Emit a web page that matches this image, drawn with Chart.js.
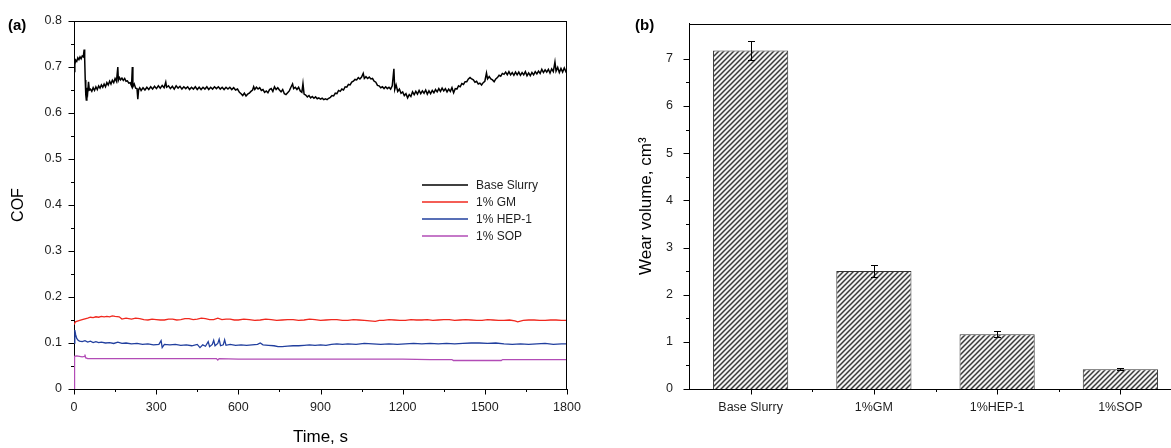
<!DOCTYPE html>
<html><head><meta charset="utf-8">
<script src="https://cdn.jsdelivr.net/npm/chart.js@4/dist/chart.umd.min.js"></script>
<style>
html,body{margin:0;padding:0;background:#fff;overflow:hidden;width:1171px;height:448px;}
#ca{position:absolute;left:0;top:0;}
#cb{position:absolute;left:600px;top:0;}
</style></head><body>
<canvas id="ca" width="600" height="448"></canvas>
<canvas id="cb" width="600" height="448"></canvas>
<script>
// ---------- data: panel (a) COF vs time, [time s, COF] ----------
const baseSlurry = [[0,0.690],[3,0.705],[6,0.715],[10,0.712],[14,0.720],[18,0.716],[22,0.722],[26,0.718],[30,0.724],[34,0.722],[37,0.738],[39,0.718],[41,0.672],[43,0.640],[45,0.628],[47,0.655],[50,0.645],[53,0.668],[56,0.650],
[60,0.652],[65,0.647],[70,0.655],[75,0.649],[80,0.657],[85,0.651],[90,0.659],[95,0.654],[100,0.661],[105,0.656],[110,0.663],[115,0.657],[120,0.666],[125,0.661],[130,0.669],[135,0.663],[140,0.671],[145,0.666],[150,0.675],[155,0.669],
[160,0.700],[162,0.671],[166,0.677],[170,0.672],[175,0.676],[180,0.671],[185,0.675],[190,0.669],[195,0.670],[200,0.665],[205,0.666],[210,0.659],[213,0.700],[215,0.657],[220,0.663],[225,0.654],[230,0.653],[233,0.630],[236,0.651],[240,0.655],
[245,0.649],[252,0.655],[259,0.650],[266,0.656],[273,0.651],[280,0.657],[287,0.652],[294,0.658],[301,0.653],[308,0.659],[315,0.654],[322,0.660],[329,0.655],[335,0.667],[338,0.656],[345,0.659],[352,0.653],[359,0.658],[366,0.652],[373,0.659],[380,0.654],[387,0.658],[394,0.652],[401,0.657],[408,0.653],[415,0.657],[422,0.651],[429,0.656],[436,0.652],[443,0.657],[450,0.651],[457,0.656],[464,0.651],[471,0.656],[478,0.652],[485,0.657],[492,0.651],[499,0.656],[506,0.652],[513,0.657],[520,0.653],[527,0.657],[534,0.652],[541,0.656],[548,0.651],[555,0.656],[562,0.652],[569,0.656],[576,0.651],[583,0.655],[590,0.650],[597,0.652],
[604,0.645],[610,0.642],[616,0.638],[622,0.643],[628,0.637],[634,0.641],[640,0.643],[646,0.647],[652,0.650],[656,0.657],[660,0.651],[666,0.656],[672,0.652],[678,0.655],[684,0.649],[690,0.651],[696,0.645],[702,0.648],[708,0.644],[714,0.651],[720,0.653],[726,0.647],[732,0.657],[738,0.651],[744,0.655],[750,0.650],[756,0.646],[762,0.651],[768,0.642],[774,0.640],[780,0.644],[786,0.648],[792,0.656],[798,0.663],[802,0.653],[808,0.656],[814,0.651],[820,0.656],[826,0.648],[832,0.645],[836,0.664],[840,0.641],
[846,0.639],[852,0.635],[858,0.638],[864,0.633],[870,0.636],[876,0.632],[882,0.635],[888,0.631],[894,0.633],[900,0.630],[906,0.632],[912,0.629],[918,0.631],[924,0.629],[930,0.632],[936,0.634],[942,0.638],[948,0.637],[954,0.643],[960,0.642],[966,0.649],[972,0.647],[978,0.652],[984,0.650],[990,0.657],[996,0.656],[1002,0.662],[1008,0.661],[1014,0.667],[1020,0.669],[1026,0.673],[1032,0.672],[1038,0.677],[1044,0.674],[1050,0.678],[1056,0.686],[1060,0.675],[1066,0.679],[1072,0.675],[1078,0.678],[1084,0.674],[1090,0.675],[1096,0.669],[1102,0.667],[1108,0.660],[1114,0.659],[1120,0.655],[1126,0.657],[1132,0.653],[1138,0.657],[1144,0.653],[1150,0.656],[1156,0.652],[1162,0.659],[1168,0.696],[1171,0.651],[1176,0.661],[1182,0.647],[1188,0.652],[1194,0.643],
[1200,0.646],[1206,0.638],[1212,0.642],[1218,0.633],[1224,0.640],[1230,0.636],[1236,0.646],[1242,0.640],[1248,0.647],[1254,0.641],[1260,0.649],[1266,0.642],[1272,0.648],[1278,0.643],[1284,0.650],[1290,0.641],[1296,0.648],[1302,0.642],[1308,0.649],[1314,0.644],[1320,0.651],[1326,0.646],[1332,0.653],[1338,0.647],[1344,0.654],[1350,0.648],[1356,0.653],[1362,0.646],[1368,0.652],[1374,0.647],[1380,0.655],[1386,0.644],[1392,0.653],[1398,0.652],[1404,0.659],[1410,0.657],[1416,0.664],[1422,0.662],[1428,0.668],[1434,0.668],[1440,0.674],[1446,0.677],[1452,0.674],[1458,0.672],[1464,0.667],[1470,0.669],[1476,0.663],[1482,0.665],[1488,0.661],[1494,0.666],[1500,0.669],[1506,0.687],[1510,0.674],[1516,0.679],[1522,0.674],[1528,0.672],[1534,0.668],[1540,0.674],[1546,0.677],[1552,0.682],[1558,0.680],[1564,0.686],[1570,0.684],[1576,0.689],[1582,0.683],[1588,0.690],[1594,0.683],
[1600,0.688],[1606,0.682],[1612,0.689],[1618,0.683],[1624,0.689],[1630,0.682],[1636,0.688],[1642,0.683],[1648,0.690],[1654,0.681],[1660,0.687],[1666,0.681],[1672,0.688],[1678,0.683],[1684,0.690],[1690,0.685],[1696,0.691],[1702,0.686],[1708,0.695],[1714,0.688],[1720,0.694],[1726,0.689],[1732,0.695],[1738,0.687],[1744,0.696],[1750,0.690],[1756,0.711],[1760,0.691],[1766,0.699],[1772,0.688],[1778,0.697],[1784,0.689],[1790,0.698],[1796,0.690],[1800,0.694]];

const gm1 = [[0,0.140],[5,0.146],[15,0.148],[30,0.151],[50,0.154],[60,0.156],[70,0.155],[80,0.157],[90,0.156],[100,0.158],[110,0.157],[120,0.158],[130,0.157],[140,0.159],[150,0.158],[165,0.157],[175,0.152],[190,0.154],[210,0.152],[225,0.154],[240,0.153],[255,0.151],[270,0.150],[285,0.152],[300,0.151],[315,0.150],[330,0.150],[345,0.152],[360,0.152],[375,0.150],[390,0.151],[405,0.153],[420,0.153],[435,0.151],[450,0.152],[465,0.154],[480,0.153],[495,0.151],[510,0.151],[525,0.154],[540,0.151],[555,0.152],[570,0.152],[585,0.150],[600,0.150],[620,0.152],[640,0.151],[660,0.149],[680,0.150],[700,0.152],[720,0.151],[740,0.149],[760,0.150],[780,0.151],[800,0.151],[820,0.149],[840,0.150],[860,0.152],[880,0.151],[900,0.149],[920,0.150],[940,0.151],[960,0.151],[980,0.149],[1000,0.149],[1020,0.151],[1040,0.150],[1060,0.149],[1080,0.148],[1100,0.147],[1115,0.149],[1130,0.149],[1150,0.151],[1170,0.150],[1190,0.149],[1210,0.149],[1230,0.151],[1250,0.150],[1270,0.150],[1290,0.151],[1310,0.149],[1330,0.150],[1350,0.151],[1370,0.151],[1390,0.149],[1410,0.150],[1430,0.151],[1450,0.150],[1470,0.149],[1490,0.149],[1510,0.151],[1530,0.150],[1550,0.149],[1570,0.149],[1590,0.150],[1610,0.148],[1620,0.146],[1640,0.149],[1660,0.150],[1680,0.150],[1700,0.149],[1720,0.149],[1740,0.150],[1760,0.150],[1780,0.149],[1800,0.149]];

const hep1 = [[0,0.100],[3,0.128],[6,0.118],[10,0.110],[15,0.106],[20,0.104],[30,0.103],[40,0.105],[50,0.102],[60,0.104],[70,0.101],[80,0.103],[90,0.101],[100,0.102],[115,0.100],[130,0.101],[145,0.099],[160,0.102],[175,0.099],[190,0.100],[210,0.098],[230,0.099],[250,0.097],[270,0.098],[290,0.096],[310,0.097],[318,0.105],[322,0.090],[330,0.097],[350,0.096],[370,0.097],[390,0.095],[410,0.096],[430,0.094],[450,0.097],[460,0.090],[470,0.096],[480,0.093],[490,0.103],[495,0.092],[505,0.097],[510,0.106],[515,0.094],[525,0.099],[530,0.108],[535,0.094],[545,0.096],[550,0.107],[555,0.095],[570,0.097],[590,0.095],[610,0.096],[630,0.095],[650,0.096],[670,0.097],[680,0.100],[690,0.096],[710,0.095],[730,0.094],[745,0.092],[760,0.092],[780,0.093],[800,0.094],[820,0.094],[840,0.095],[860,0.096],[880,0.095],[900,0.096],[920,0.095],[940,0.097],[960,0.098],[980,0.097],[1000,0.098],[1030,0.097],[1060,0.099],[1090,0.098],[1120,0.097],[1150,0.098],[1180,0.097],[1210,0.098],[1240,0.099],[1270,0.098],[1300,0.099],[1330,0.098],[1360,0.099],[1390,0.098],[1420,0.099],[1450,0.100],[1480,0.100],[1510,0.099],[1540,0.100],[1570,0.098],[1600,0.097],[1630,0.098],[1660,0.097],[1690,0.098],[1720,0.099],[1750,0.097],[1780,0.098],[1800,0.098]];

const sop1 = [[0,0.000],[2,0.071],[10,0.072],[20,0.071],[30,0.070],[38,0.071],[40,0.075],[42,0.068],[50,0.066],[100,0.066],[200,0.066],[300,0.066],[400,0.066],[520,0.066],[525,0.063],[530,0.066],[600,0.065],[700,0.065],[800,0.065],[900,0.065],[1000,0.065],[1100,0.065],[1200,0.065],[1300,0.064],[1380,0.064],[1385,0.062],[1560,0.062],[1565,0.064],[1700,0.064],[1800,0.064]];

const seriesNames = ['Base Slurry','1% GM','1% HEP-1','1% SOP'];

// ---------- data: panel (b) wear volume ----------
const wearCategories = ['Base Slurry','1%GM','1%HEP-1','1%SOP'];
const wearVolume = [7.18, 2.50, 1.16, 0.42];
const wearError = [0.20, 0.12, 0.06, 0.02];

// ---------- tick settings ----------
const timeTickStep = 150, timeLabelStep = 300;
const cofTickStep = 0.05;
const wearTickStep = 0.5;

const FONT = "'Liberation Sans', Arial, Helvetica, sans-serif";
const TXT = '#1e1e1e';

function pairs(arr){ return arr.map(p=>({x:p[0], y:p[1]})); }
function isMult(v, step){ const r = v/step; return Math.abs(r-Math.round(r)) < 1e-6; }

function drawLinearTicks(ctx, scale, minorStep, horizontal, area){
  scale.ticks.forEach(tk=>{
    if(!isMult(tk.value, minorStep)) return;
    const major = tk.label !== '' && tk.label !== undefined;
    const len = major ? 5.5 : 3;
    const p = Math.round(scale.getPixelForValue(tk.value)) + 0.5;
    ctx.beginPath();
    if(horizontal){ ctx.moveTo(p, area.bottom); ctx.lineTo(p, area.bottom+len); }
    else { ctx.moveTo(area.left, p); ctx.lineTo(area.left-len, p); }
    ctx.stroke();
  });
}

const decoA = {
  id:'decoA',
  afterDatasetsDraw(chart){
    const ctx = chart.ctx, a = chart.chartArea;
    ctx.save();
    ctx.strokeStyle = '#000'; ctx.lineWidth = 1;
    ctx.beginPath();
    ctx.moveTo(a.left, Math.round(a.top)+0.5); ctx.lineTo(a.right, Math.round(a.top)+0.5);
    ctx.moveTo(Math.round(a.right)-0.5, a.top); ctx.lineTo(Math.round(a.right)-0.5, a.bottom);
    ctx.stroke();
    drawLinearTicks(ctx, chart.scales.x, timeTickStep, true, a);
    drawLinearTicks(ctx, chart.scales.y, cofTickStep, false, a);
    // legend
    const lx = 422, ly = 185, dy = 17;
    ctx.font = '12px ' + FONT; ctx.textBaseline = 'middle'; ctx.textAlign = 'left';
    chart.data.datasets.forEach((ds,i)=>{
      const y = ly + i*dy;
      ctx.strokeStyle = ds.borderColor; ctx.lineWidth = 1.3;
      ctx.beginPath(); ctx.moveTo(lx, y); ctx.lineTo(lx+46, y); ctx.stroke();
      ctx.fillStyle = TXT; ctx.fillText(ds.label, lx+54, y+0.5);
    });
    ctx.font = 'bold 15px ' + FONT; ctx.fillStyle = '#000';
    ctx.fillText('(a)', 8, 26);
    ctx.restore();
  }
};

new Chart(document.getElementById('ca'), {
  type:'line',
  data:{ datasets:[
    {label:seriesNames[0], data:pairs(baseSlurry), borderColor:'#000000', borderWidth:1.5},
    {label:seriesNames[1], data:pairs(gm1), borderColor:'#f0281e', borderWidth:1.3},
    {label:seriesNames[2], data:pairs(hep1), borderColor:'#213f9e', borderWidth:1.3},
    {label:seriesNames[3], data:pairs(sop1), borderColor:'#b24cb6', borderWidth:1.3}
  ]},
  options:{
    responsive:false, animation:false, events:[],
    layout:{padding:{left:0, top:21, right:33, bottom:0}},
    elements:{point:{radius:0}, line:{tension:0}},
    plugins:{legend:{display:false}, tooltip:{enabled:false}},
    scales:{
      x:{type:'linear', min:0, max:1800,
         grid:{display:false, drawTicks:false},
         border:{display:true, color:'#000', width:1},
         ticks:{stepSize:timeTickStep, autoSkip:false, maxRotation:0, padding:11, color:TXT,
                font:{family:FONT, size:12.5},
                callback:(v)=> isMult(v, timeLabelStep) ? String(v) : ''},
         title:{display:true, text:'Time, s', color:'#000', font:{family:FONT, size:17}, padding:{top:0,bottom:0}},
         afterFit:(s)=>{ s.height = 59; }
      },
      y:{type:'linear', min:0, max:0.8,
         grid:{display:false, drawTicks:false},
         border:{display:true, color:'#000', width:1},
         ticks:{stepSize:cofTickStep, autoSkip:false, padding:12, color:TXT,
                font:{family:FONT, size:12.5},
                callback:(v)=>{ if(!isMult(v,0.1)) return ''; const r=Math.round(v*10)/10; return r===0?'0':r.toFixed(1);} },
         title:{display:true, text:'COF', color:'#000', font:{family:FONT, size:16}, padding:{top:9,bottom:0}},
         afterFit:(s)=>{ s.width = 74; }
      }
    }
  },
  plugins:[decoA]
});

// ---------- panel (b) ----------
function hatchPattern(){
  const s = 5;
  const c = document.createElement('canvas'); c.width = s; c.height = s;
  const g = c.getContext('2d');
  g.fillStyle = '#f4f4f4'; g.fillRect(0,0,s,s);
  g.strokeStyle = '#3a3a3a'; g.lineWidth = 1.5;
  g.beginPath();
  g.moveTo(-1, s+1); g.lineTo(s+1, -1);
  g.moveTo(-1, 1); g.lineTo(1, -1);
  g.moveTo(s-1, s+1); g.lineTo(s+1, s-1);
  g.stroke();
  return document.getElementById('cb').getContext('2d').createPattern(c, 'repeat');
}

const decoB = {
  id:'decoB',
  afterDatasetsDraw(chart){
    const ctx = chart.ctx, a = chart.chartArea;
    const xs = chart.scales.x, ys = chart.scales.y;
    ctx.save();
    ctx.strokeStyle = '#000'; ctx.lineWidth = 1;
    const meta = chart.getDatasetMeta(0);
    meta.data.forEach((el,i)=>{
      const x = Math.round(el.x)+0.5;
      const yt = Math.round(ys.getPixelForValue(wearVolume[i]+wearError[i]))+0.5;
      const yb = Math.round(ys.getPixelForValue(wearVolume[i]-wearError[i]))+0.5;
      ctx.beginPath();
      ctx.moveTo(x, yt); ctx.lineTo(x, yb);
      ctx.moveTo(x-3.5, yt); ctx.lineTo(x+3.5, yt);
      ctx.moveTo(x-3.5, yb); ctx.lineTo(x+3.5, yb);
      ctx.stroke();
    });
    ctx.beginPath();
    ctx.moveTo(a.left, Math.round(a.top)+0.5); ctx.lineTo(a.right, Math.round(a.top)+0.5);
    ctx.moveTo(Math.round(a.right)-0.5, a.top); ctx.lineTo(Math.round(a.right)-0.5, a.bottom);
    ctx.stroke();
    drawLinearTicks(ctx, ys, wearTickStep, false, a);
    const n = wearCategories.length;
    for(let i=0;i<n;i++){
      const p = Math.round(xs.getPixelForValue(i))+0.5;
      ctx.beginPath(); ctx.moveTo(p, a.bottom); ctx.lineTo(p, a.bottom+5.5); ctx.stroke();
      if(i<n-1){
        const q = Math.round((xs.getPixelForValue(i)+xs.getPixelForValue(i+1))/2)+0.5;
        ctx.beginPath(); ctx.moveTo(q, a.bottom); ctx.lineTo(q, a.bottom+3); ctx.stroke();
      }
    }
    ctx.font = 'bold 15px ' + FONT; ctx.fillStyle = '#000';
    ctx.textBaseline = 'middle'; ctx.textAlign = 'left';
    ctx.fillText('(b)', 35, 26);
    ctx.restore();
  }
};

new Chart(document.getElementById('cb'), {
  type:'bar',
  data:{ labels:wearCategories, datasets:[{
    label:'Wear volume', data:wearVolume,
    backgroundColor:hatchPattern(), borderColor:'#333', borderWidth:1,
    barPercentage:0.61, categoryPercentage:1
  }]},
  options:{
    responsive:false, animation:false, events:[],
    layout:{padding:{left:0, top:21, right:18, bottom:0}},
    plugins:{legend:{display:false}, tooltip:{enabled:false}},
    scales:{
      x:{grid:{display:false, drawTicks:false},
         border:{display:true, color:'#000', width:1},
         ticks:{padding:11, color:TXT, maxRotation:0, autoSkip:false, font:{family:FONT, size:12.5}},
         afterFit:(s)=>{ s.height = 59; }
      },
      y:{min:0, max:7.75,
         grid:{display:false, drawTicks:false},
         border:{display:true, color:'#000', width:1},
         ticks:{stepSize:wearTickStep, autoSkip:false, padding:16, color:TXT, font:{family:FONT, size:12.5},
                callback:(v)=> isMult(v,1) ? String(Math.round(v)) : ''},
         title:{display:true, text:'Wear volume, cm\u00B3', color:'#000', font:{family:FONT, size:17}, padding:{top:36,bottom:0}},
         afterFit:(s)=>{ s.width = 89; }
      }
    }
  },
  plugins:[decoB]
});
</script>
</body></html>
